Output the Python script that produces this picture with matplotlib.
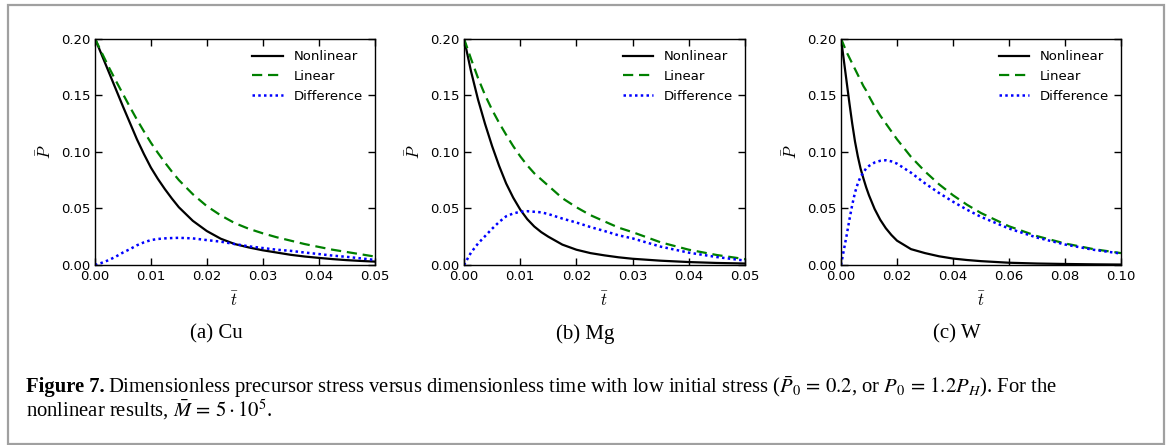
import matplotlib
matplotlib.use('Agg')
import matplotlib.pyplot as plt
from matplotlib.patches import Rectangle

# ---------------- data ----------------
t_cu = [0, .00125, .0025, .00375, .005, .00625, .0075, .00875, .01, .01125, .0125,
        .01375, .015, .0175, .02, .0225, .025, .0275, .03, .0325, .035, .0375,
        .04, .0425, .045, .0475, .05]
cu_nonlinear = [.2, .185, .170, .155, .140, .1255, .111, .098, .086, .076, .067,
                .0587, .051, .039, .030, .0232, .0185, .0155, .013, .011, .009, .0075,
                .0063, .0052, .0043, .0036, .003]
cu_linear = [.2, .187, .1744, .1625, .151, .1395, .1284, .118, .108, .099, .0905,
             .0825, .075, .0625, .052, .0438, .037, .032, .028, .0245, .0215, .0185,
             .016, .0135, .0115, .0095, .0075]
cu_difference = [0, .002, .0044, .0075, .011, .014, .0174, .020, .022, .023, .0235,
                 .0238, .024, .0235, .022, .0206, .0185, .0165, .015, .0135, .0125, .011,
                 .0097, .0083, .0072, .0059, .0045]

t_mg = [0, .00125, .0025, .00375, .005, .00625, .0075, .00875, .01, .01125, .0125,
        .01375, .015, .0175, .02, .0225, .025, .0275, .03, .035, .04, .045, .05]
mg_nonlinear = [.2, .171, .146, .1245, .105, .0875, .072, .0595, .049, .0405, .034,
                .029, .025, .018, .0135, .0105, .0085, .0068, .0055, .0038, .0026,
                .0018, .0013]
mg_linear = [.2, .182, .165, .150, .137, .1255, .115, .105, .096, .088, .081,
             .0755, .070, .059, .051, .044, .0385, .033, .029, .020, .0135, .0088, .0052]
mg_difference = [0, .011, .019, .0255, .032, .038, .043, .0455, .047, .0475, .047,
                 .0465, .045, .041, .0375, .0335, .030, .0262, .0235, .0162, .0109,
                 .007, .0039]

t_w = [0, .001, .002, .003, .004, .005, .006, .007, .008, .009, .01, .012, .014,
       .016, .018, .02, .025, .03, .035, .04, .045, .05, .06, .07, .08, .09, .1]
w_nonlinear = [.2, .181, .162, .143, .125, .109, .096, .085, .0765, .0685, .0615, .0495,
               .040, .0325, .0265, .0215, .014, .0105, .0077, .0057, .0044, .0034,
               .002, .0013, .0009, .0006, .0004]
w_linear = [.2, .194, .188, .183, .178, .173, .168, .163, .158, .154, .149, .140,
            .132, .125, .118, .111, .0955, .0826, .0713, .0616, .0532, .0459,
            .0342, .0255, .019, .0141, .0105]
w_difference = [0, .013, .026, .040, .053, .064, .072, .078, .0815, .0855, .0875, .0905,
                .092, .0925, .0915, .0895, .0815, .0721, .0636, .0559, .0488, .0425,
                .0322, .0242, .0181, .0135, .0101]

xticks_cu = [0, .01, .02, .03, .04, .05]
xticks_mg = [0, .01, .02, .03, .04, .05]
xticks_w = [0, .02, .04, .06, .08, .10]
yticks = [0, .05, .10, .15, .20]
series_labels = ['Nonlinear', 'Linear', 'Difference']
subcaptions = ['(a) Cu', '(b) Mg', '(c) W']

# ---------------- figure ----------------
W, H = 1168, 445
plt.rcParams['mathtext.fontset'] = 'cm'
plt.rcParams['font.family'] = ['DejaVu Sans']
fig = plt.figure(figsize=(W / 100, H / 100), dpi=100)


def px_axes(l, r, t, b):
    return [l / W, 1 - b / H, (r - l) / W, (b - t) / H]


panels = [
    (t_cu, cu_nonlinear, cu_linear, cu_difference, xticks_cu, (95, 374.5, 38.5, 265), 216),
    (t_mg, mg_nonlinear, mg_linear, mg_difference, xticks_mg, (464, 745, 38.5, 265), 585),
    (t_w, w_nonlinear, w_linear, w_difference, xticks_w, (841, 1121, 38.5, 265), 957),
]

for (t, nl, lin, diff, xt, box, capx), cap in zip(panels, subcaptions):
    ax = fig.add_axes(px_axes(*box))
    ax.plot(t, nl, color='black', lw=1.6, label=series_labels[0])
    ax.plot(t, lin, color='#008000', lw=1.6, ls=(0, (4.6, 2.6)), label=series_labels[1])
    ax.plot(t, diff, color='#0000ff', lw=1.8, ls=(0, (1, 1.3)), label=series_labels[2])
    ax.set_xlim(xt[0], xt[-1])
    ax.set_ylim(0, 0.2)
    ax.set_xticks(xt)
    ax.set_yticks(yticks)
    ax.xaxis.set_major_formatter('{x:.2f}')
    ax.yaxis.set_major_formatter('{x:.2f}')
    ax.tick_params(direction='in', top=True, right=True, length=5, width=1,
                   labelsize=9.5, pad=3.5)
    for s in ax.spines.values():
        s.set_linewidth(1.0)
    ax.set_xlabel(r'$\bar{t}$', fontsize=12, labelpad=6)
    ax.set_ylabel(r'$\bar{P}$', fontsize=12, labelpad=4)
    ax.legend(loc='upper right', frameon=False, fontsize=9.5, handlelength=2.3,
              handletextpad=0.8)
    fig.text(capx / W, 1 - 334 / H, cap, ha='center', va='center',
             family='Liberation Serif', fontsize=15)

# ---------------- caption ----------------
r = fig.canvas.get_renderer()
cap_fs = 14.9
y1 = 1 - 387 / H
y2 = 1 - 410 / H
t1 = fig.text(26 / W, y1, 'Figure 7.', fontweight='bold', family='Liberation Serif',
              fontsize=cap_fs, va='center')
bb = t1.get_window_extent(r)
fig.text((bb.x1 + 3) / W, y1,
         r'Dimensionless precursor stress versus dimensionless time with low initial stress '
         r'($\bar{P}_0\, =\, 0.2$, or $P_0\, =\, 1.2P_H$). For the',
         family='Liberation Serif', fontsize=cap_fs, va='center', math_fontfamily='stix')
fig.text(26 / W, y2, r'nonlinear results, $\bar{M}\, =\, 5\cdot10^5$.',
         family='Liberation Serif', fontsize=cap_fs, va='center', math_fontfamily='stix')

# border box
fig.patches.append(Rectangle((7.5 / W, 1 - 443.5 / H), (1164 - 7.5) / W, (443.5 - 4.7) / H,
                             transform=fig.transFigure, fill=False, ec='#a0a0a0', lw=1.6))

fig.savefig('out.png', dpi=100)
